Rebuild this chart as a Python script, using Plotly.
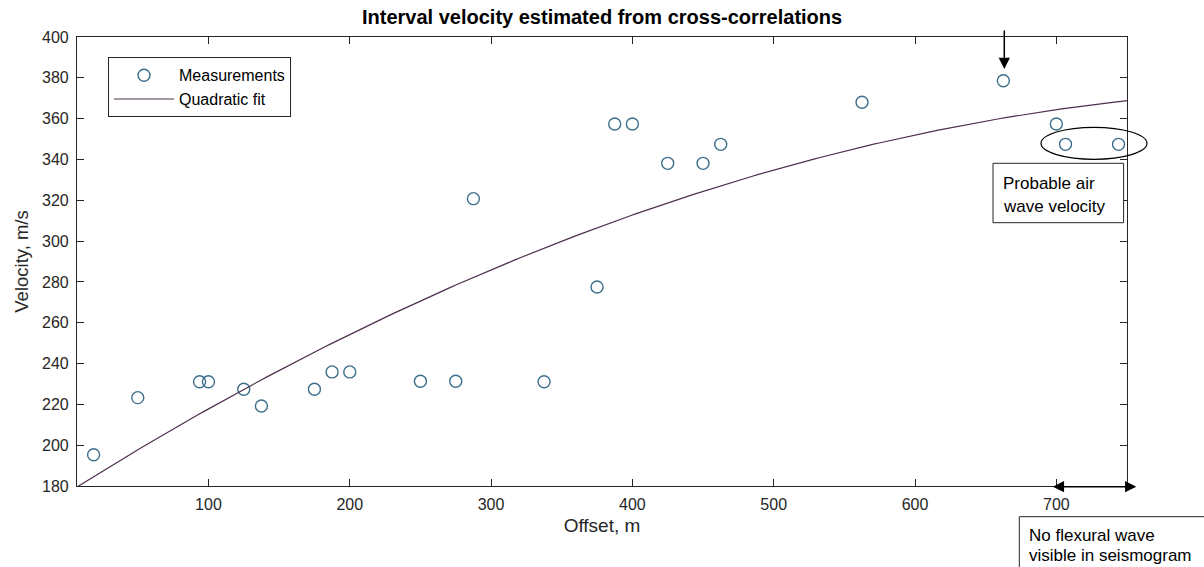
import numpy as np
import plotly.graph_objects as go

# Measured interval velocities from cross-correlation picks
offset_m = [18.75, 50, 93.75, 100, 125, 137.5, 175, 187.5, 200, 250, 275, 287.5,
            337.5, 375, 387.5, 400, 425, 450, 462.5, 562.5, 662.5, 700, 706.5, 744]
velocity_ms = [195.3, 223.3, 231.1, 231.1, 227.4, 219.2, 227.4, 235.9, 235.9, 231.3, 231.3, 320.8,
               231.1, 277.5, 357.4, 357.4, 338.1, 338.1, 347.4, 368.0, 378.6, 357.4, 347.4, 347.4]

x_ticks = [100, 200, 300, 400, 500, 600, 700]
y_ticks = [180, 200, 220, 240, 260, 280, 300, 320, 340, 360, 380, 400]
X_RANGE = [7, 750]
Y_RANGE = [180, 400]

# Second-order least-squares fit to the measurements
coef = np.polyfit(offset_m, velocity_ms, 2)
fit_x = np.linspace(X_RANGE[0], X_RANGE[1], 200)
fit_y = np.polyval(coef, fit_x)

W, H = 1204, 567
L, R, T, B = 76.7, 77.3, 37, 81
PW, PH = W - L - R, H - T - B


def px(xp):
    return (xp - L) / PW


def py(yp):
    return (H - B - yp) / PH


INK = "#262626"
FONT = "Liberation Sans, Arial, sans-serif"

fig = go.Figure()
fig.add_trace(go.Scatter(
    x=offset_m, y=velocity_ms, mode="markers", name="Measurements",
    marker=dict(symbol="circle-open", size=12, color="#3d6f8c", line=dict(width=1.4)),
))
fig.add_trace(go.Scatter(
    x=fit_x, y=fit_y, mode="lines", name="Quadratic fit",
    line=dict(color="#4d2f4d", width=1.2),
))

axis_common = dict(
    showline=True, linecolor=INK, linewidth=1.2, mirror="ticks",
    ticks="inside", ticklen=7, tickcolor=INK, showgrid=False, zeroline=False,
    tickfont=dict(family=FONT, size=16, color=INK), ticklabelstandoff=4,
)
fig.update_xaxes(range=X_RANGE, tickvals=x_ticks, **axis_common,
                 title=dict(text="Offset, m", font=dict(family=FONT, size=19, color=INK), standoff=6))
fig.update_yaxes(range=Y_RANGE, tickvals=y_ticks, **axis_common,
                 title=dict(text="Velocity, m/s", font=dict(family=FONT, size=18.5, color=INK), standoff=8))

shapes = [
    # ellipse around the air-wave picks
    dict(type="circle", xref="paper", yref="paper",
         x0=px(1040.7), x1=px(1146.7), y0=py(159.3), y1=py(127.3),
         line=dict(color="black", width=1.2)),
    # text boxes
    dict(type="rect", xref="paper", yref="paper",
         x0=px(992.7), x1=px(1123.3), y0=py(222.7), y1=py(163.3),
         line=dict(color=INK, width=1), fillcolor="white"),
    dict(type="rect", xref="paper", yref="paper",
         x0=px(1019), x1=px(1215), y0=py(580), y1=py(516.7),
         line=dict(color=INK, width=1), fillcolor="white"),
]

note_font = dict(family=FONT, size=17, color="black")
annotations = [
    dict(text="<b>Interval velocity estimated from cross-correlations</b>",
         xref="paper", yref="paper", x=0.5, y=py(17), xanchor="center", yanchor="middle",
         showarrow=False, font=dict(family=FONT, size=20, color="black")),
    # down arrow to the highest pick
    dict(text="", xref="paper", yref="paper", x=px(1004), y=py(69),
         ax=0, ay=-40, showarrow=True, arrowhead=2, arrowsize=1.5, arrowwidth=1.5,
         arrowcolor="black"),
    # double-headed arrow along the offset axis
    dict(text="", xref="paper", yref="paper", x=px(1136), y=py(486.7),
         ax=-85, ay=0, showarrow=True, arrowhead=2, startarrowhead=2, arrowside="end+start",
         arrowsize=1.5, startarrowsize=1.5, arrowwidth=1.5, arrowcolor="black"),
    dict(text="Probable air", xref="paper", yref="paper", x=px(1001), y=py(183),
         xanchor="left", yanchor="middle", showarrow=False, font=note_font),
    dict(text="wave velocity", xref="paper", yref="paper", x=px(1001), y=py(206),
         xanchor="left", yanchor="middle", showarrow=False, font=note_font),
    dict(text="No flexural wave", xref="paper", yref="paper", x=px(1027), y=py(535),
         xanchor="left", yanchor="middle", showarrow=False, font=note_font),
    dict(text="visible in seismogram", xref="paper", yref="paper", x=px(1027), y=py(555),
         xanchor="left", yanchor="middle", showarrow=False, font=note_font),
]

fig.update_layout(
    width=W, height=H,
    margin=dict(l=L, r=R, t=T, b=B, pad=0),
    paper_bgcolor="white", plot_bgcolor="white",
    shapes=shapes, annotations=annotations,
    legend=dict(x=px(107.7), y=py(57.3), xanchor="left", yanchor="top",
                bordercolor=INK, borderwidth=1, bgcolor="white",
                font=dict(family=FONT, size=16, color="black"),
                itemwidth=60, tracegroupgap=0),
    showlegend=True,
)

fig.write_html("out.html")
